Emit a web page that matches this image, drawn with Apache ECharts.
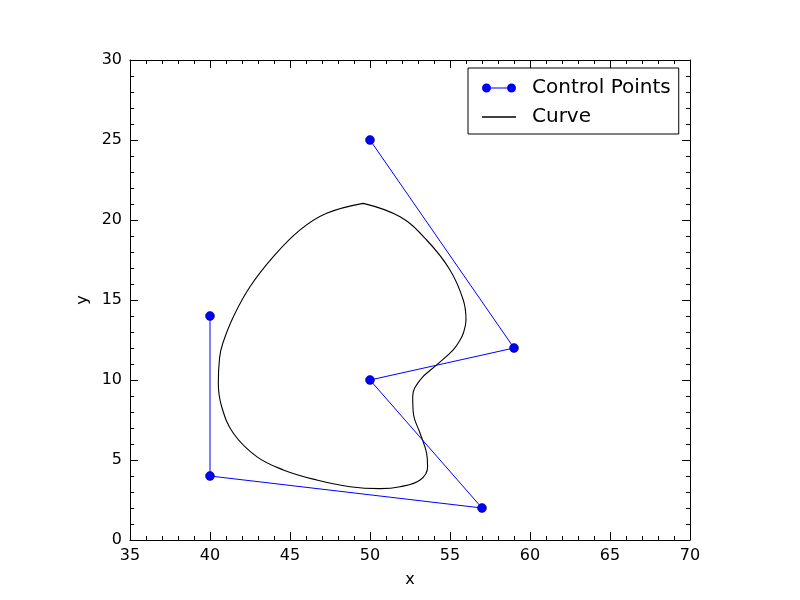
<!DOCTYPE html>
<html>
<head>
<meta charset="utf-8">
<script src="https://cdn.jsdelivr.net/npm/echarts@6/dist/echarts.min.js"></script>
<style>
  body { margin: 0; background: #fff; }
  #chart { width: 800px; height: 600px; }
</style>
</head>
<body>
<div id="chart"></div>
<script>
// control polygon
let ctrlX = [50, 59, 50, 57, 40, 40];
let ctrlY = [25, 12, 10, 2, 4, 14];

// curve
let curveX = [49.58, 47.29, 45.63, 43.96, 42.5, 41.46, 40.8, 40.6, 40.52, 40.73, 41.46, 42.92, 44.58, 46.67, 48.75, 50.63, 51.88, 53.13, 53.6, 53.54, 53.13, 52.71, 52.67, 53.13, 54.17, 55.2, 55.63, 55.83, 56.0, 55.83, 55.0, 53.54, 51.88, 49.58];
let curveY = [21.04, 20.42, 19.38, 17.71, 15.83, 13.96, 12.3, 11.4, 9.79, 8.33, 6.67, 5.21, 4.38, 3.75, 3.33, 3.21, 3.33, 3.75, 4.58, 5.42, 6.67, 7.92, 8.96, 10.0, 10.94, 11.88, 12.5, 12.92, 13.75, 15.0, 16.88, 18.75, 20.2, 21.04];

let xTicks = { min: 35, max: 70, step: 5 };
let yTicks = { min: 0, max: 30, step: 5 };

function pairs(xs, ys)
{
    let out = [];
    for (let i = 0; i < xs.length; i++) {
        out.push([xs[i], ys[i]]);
    }
    return out;
}

let font = 'DejaVu Sans';

// legend icons: the M0,0 M36,11 moves only fix the icon box to 36x11
let iconCtrl = 'path://M0,0 M36,11 M1,5.5 a4.5,4.5 0 1,0 9,0 a4.5,4.5 0 1,0 -9,0 Z M26,5.5 a4.5,4.5 0 1,0 9,0 a4.5,4.5 0 1,0 -9,0 Z M10,4.9 H26 V6.1 H10 Z';
let iconCurve = 'path://M0,0 M36,11 M1,4.8 H35 V6.2 H1 Z';

function makeAxis(t, pos, show, extra)
{
    let a = {
        type: 'value',
        position: pos,
        min: t.min,
        max: t.max,
        interval: t.step,
        axisLine: { show: true, onZero: false, lineStyle: { color: '#000', width: 1 } },
        axisTick: { show: true, inside: true, length: 8, lineStyle: { color: '#000' } },
        minorTick: { show: true, splitNumber: 5, length: 4, lineStyle: { color: '#000' } },
        splitLine: { show: false },
        axisLabel: { show: show, color: '#000', fontSize: 16, fontFamily: font, margin: 8 }
    };
    return Object.assign(a, extra || {});
}

var myChart = echarts.init(document.getElementById('chart'));

let option = {
    animation: false,
    backgroundColor: '#fff',
    grid: { left: 130, right: 110, top: 60, bottom: 60, containLabel: false },
    legend: {
        orient: 'vertical',
        left: 468,
        top: 68,
        padding: [10, 8, 7, 13],
        itemGap: 9,
        itemWidth: 36,
        itemHeight: 11,
        borderColor: '#000',
        borderWidth: 1,
        borderRadius: 0,
        backgroundColor: '#fff',
        textStyle: { fontSize: 20, lineHeight: 20, fontFamily: font, color: '#000', padding: [0, 0, 0, 10] },
        data: [
            { name: 'Control Points', icon: iconCtrl, itemStyle: { color: '#0000ff', borderWidth: 0 } },
            { name: 'Curve', icon: iconCurve, itemStyle: { color: '#000', borderWidth: 0 } }
        ]
    },
    xAxis: [
        makeAxis(xTicks, 'bottom', true, {
            name: 'x', nameLocation: 'middle', nameGap: 32,
            nameTextStyle: { fontSize: 16, fontFamily: font, color: '#000' }
        }),
        makeAxis(xTicks, 'top', false)
    ],
    yAxis: [
        makeAxis(yTicks, 'left', true, {
            name: 'y', nameLocation: 'middle', nameGap: 32,
            nameTextStyle: { fontSize: 16, fontFamily: font, color: '#000' }
        }),
        makeAxis(yTicks, 'right', false)
    ],
    series: [
        {
            name: 'Control Points',
            type: 'line',
            data: pairs(ctrlX, ctrlY),
            symbol: 'circle',
            symbolSize: 9,
            lineStyle: { color: '#0000ff', width: 1 },
            itemStyle: { color: '#0000ff', borderColor: '#000033', borderWidth: 0.5 },
            z: 3
        },
        {
            name: 'Curve',
            type: 'line',
            data: pairs(curveX, curveY),
            smooth: 0.4,
            showSymbol: false,
            symbol: 'none',
            lineStyle: { color: '#000', width: 1.1 },
            itemStyle: { color: '#000' },
            z: 2
        }
    ]
};

myChart.setOption(option);
</script>
</body>
</html>
